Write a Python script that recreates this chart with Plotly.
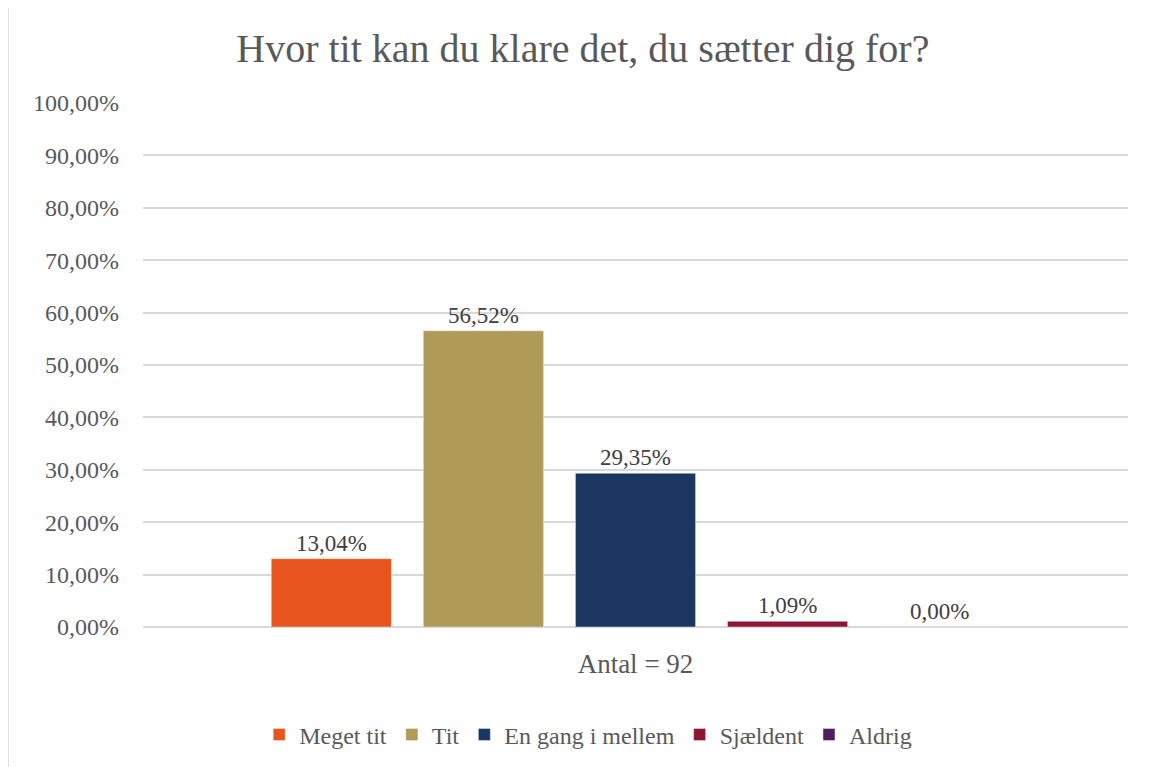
import plotly.graph_objects as go

categories = ["Antal = 92"]
series_names = ["Meget tit", "Tit", "En gang i mellem", "Sjældent", "Aldrig"]
series_values = [13.04, 56.52, 29.35, 1.09, 0.00]
series_colors = ["#E8541E", "#B09A58", "#1A3760", "#8E1533", "#4E1E5E"]
tick_vals = [0, 10, 20, 30, 40, 50, 60, 70, 80, 90, 100]
tick_text = [f"{v},00%" for v in tick_vals]

FONT = "Georgia, 'Liberation Serif', 'DejaVu Serif', serif"

fig = go.Figure()
for name, val, col in zip(series_names, series_values, series_colors):
    fig.add_trace(go.Bar(
        x=categories, y=[val], name=name, marker_color=col,
        text=[f"{val:.2f}%".replace(".", ",")], textposition="outside",
        textfont=dict(family=FONT, size=23, color="#404040"),
        cliponaxis=False,
    ))

fig.update_layout(
    width=1152, height=767,
    margin=dict(l=135, r=32, t=95, b=148),
    paper_bgcolor="white", plot_bgcolor="white",
    barmode="group", bargap=0.228, bargroupgap=0.21,
    title=dict(text="Hvor tit kan du klare det, du sætter dig for?",
               x=0.499, xanchor="center", y=0.948, yanchor="middle",
               font=dict(family=FONT, size=40, color="#595959")),
    font=dict(family=FONT, color="#595959"),
    showlegend=True,
    legend=dict(orientation="h", x=0.452, xanchor="center", y=-0.206, yanchor="middle",
                font=dict(family=FONT, size=24, color="#595959"),
                itemwidth=30, traceorder="normal"),
    xaxis=dict(showgrid=False, showline=False, ticks="", ticklabelstandoff=18,
               tickfont=dict(family=FONT, size=27, color="#595959")),
    yaxis=dict(range=[0, 100], tickvals=tick_vals, ticktext=tick_text,
               showgrid=True, gridcolor="#D9D9D9", gridwidth=1.5,
               zeroline=True, zerolinecolor="#D9D9D9", zerolinewidth=1.5,
               showline=False, ticks="", ticklabelstandoff=23,
               tickfont=dict(family=FONT, size=24, color="#595959")),
    shapes=[dict(type="rect", xref="paper", yref="paper",
                 x0=-0.137, x1=1.05, y0=-0.3, y1=1.183,
                 line=dict(color="#D9D9D9", width=1.5), fillcolor="rgba(0,0,0,0)")],
)

fig.write_html("out.html")
